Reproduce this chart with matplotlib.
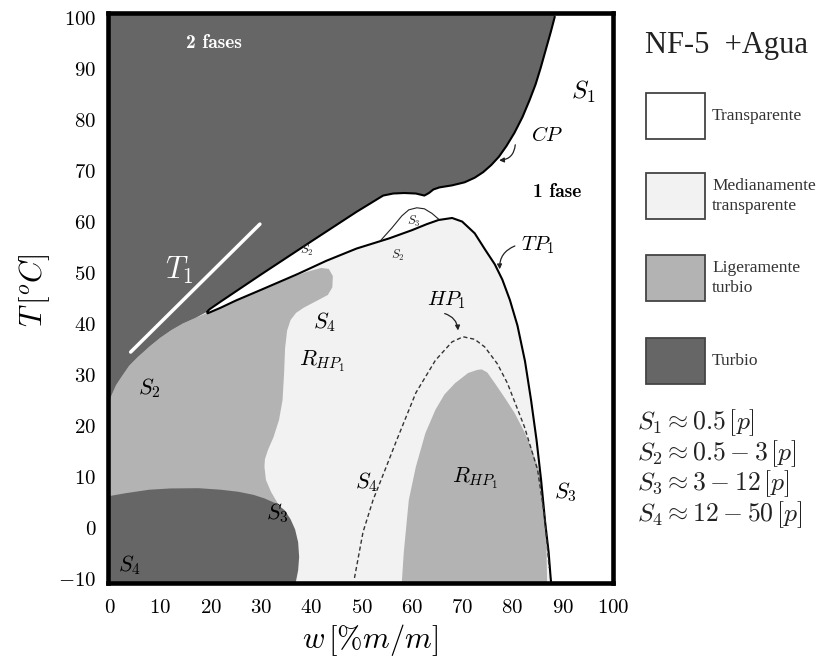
import matplotlib
matplotlib.use('Agg')
import matplotlib.pyplot as plt
from matplotlib.patches import Polygon, Rectangle

plt.rcParams['mathtext.fontset'] = 'cm'

# grados de turbidez
c_trans = '#ffffff'
c_medio = '#f2f2f2'
c_liger = '#b3b3b3'
c_turbio = '#666666'

# borde inferior de la zona 2 fases: curva CP y escalon
cp_w = [88.8, 88.4, 87.6, 86.6, 85.6, 84.6, 83.4, 82.0, 80.4, 78.8, 77.3, 75.8, 74.2, 72.5, 70.5, 68.0,
        65.5, 64.3, 63.4, 62.5, 60.8, 58.5, 56.3, 54.3]
cp_T = [101, 100, 97, 93.5, 90, 86.8, 83.7, 80.4, 77.3, 74.7, 72.6, 71.0, 69.6, 68.5, 67.6, 67.0,
        66.6, 66.2, 65.5, 65.0, 65.4, 65.5, 65.4, 65.0]

# cuna blanca: borde superior (hacia la punta) y borde inferior (desde la punta)
cuna_sup_w = [49, 40, 30, 22, 19.8, 19.3]
cuna_sup_T = [61.8, 56.0, 49.5, 44.2, 42.7, 42.2]
cuna_inf_w = [19.4, 22, 25, 30, 37.3, 43, 49, 55.5, 60, 63, 65.3, 68]
cuna_inf_T = [41.9, 43.0, 44.4, 46.5, 49.6, 52.2, 54.6, 56.6, 58.2, 59.4, 60.2, 60.6]

# curva TP1
tp_w = [70, 72.5, 74.5, 76.5, 78, 79.5, 81, 82.5, 83.7, 84.8, 85.7, 86.5, 87.2, 87.6, 87.7]
tp_T = [59.9, 57.6, 54.5, 51.5, 48.5, 44.5, 39.5, 32.5, 24.9, 17.0, 9.2, 1.0, -5, -10, -11]

# frontera turbio / ligeramente turbio a la izquierda (desde la punta)
izq_w = [17, 14.5, 12.2, 10, 8, 5.5, 3.8, 2.4, 1.2, 0.3, -0.3, -1]
izq_T = [41.0, 39.9, 38.6, 37.1, 35.5, 33.3, 31.6, 29.6, 27.8, 25.8, 24.3, 22.5]

# zona ligeramente turbia izquierda: borde superior y derecho
lig_w = [19.3, 25, 30, 35, 39, 42, 43.5, 44.3, 44.2, 43.3, 41.2, 38.5, 37.0, 35.9, 35.2, 34.8, 34.6,
         34.3, 33.6, 32.5, 31.4, 30.8, 30.7, 31.0, 32.0, 34.0, 36.0]
lig_T = [42.0, 44.3, 46.4, 48.5, 50.0, 50.8, 50.6, 49.2, 47.0, 45.5, 44.4, 43.0, 42.0, 40.6, 38.5, 35.0, 30.0,
         24.9, 21.0, 17.6, 15.1, 13.3, 11.8, 9.2, 6.9, 3.5, -11]

# zona turbia inferior izquierda
inf_w = [-1, -1, 3.0, 7.8, 12.0, 17.6, 22.0, 25.5, 28.5, 30.7, 33.0, 34.7, 35.9, 36.8, 37.4, 37.6, 37.4, 36.9]
inf_T = [-11, 5.9, 6.6, 7.3, 7.55, 7.6, 7.3, 6.9, 6.3, 5.6, 4.6, 3.3, 1.5, -0.5, -3.0, -5.9, -8.5, -11]

# zona ligeramente turbia derecha (R_HP1)
rhp_w = [58.0, 58.4, 59.4, 60.8, 62.7, 64.7, 66.5, 68.6, 71.2, 73.0, 73.9, 75.0, 76.5, 78.5, 80.4, 82.2,
         83.7, 85.0, 85.7, 86.3, 86.7, 86.9]
rhp_T = [-11, -5, 5.3, 11.8, 18.4, 23.0, 26.0, 28.2, 30.2, 30.8, 30.9, 30.3, 28.2, 25.3, 22.4, 19.0,
         15.7, 12.0, 9.2, 4.0, -1.2, -11]

# curva HP1 (discontinua)
hp_w = [48.6, 50.3, 52.3, 55.0, 56.9, 60.8, 64.7, 68.0, 70.2, 72.5, 74.5, 77.0, 79.0, 82.4, 85.0, 86.4, 87.3]
hp_T = [-10, -1, 5.3, 12.0, 16.8, 26.3, 32.7, 36.3, 37.3, 36.8, 35.3, 32.0, 28.2, 19.6, 11.2, 2.0, -8]

# linea S3 sobre la cuna
s3_w = [53.9, 56.0, 58.0, 59.4, 61.0, 62.5, 64.0, 65.3]
s3_T = [56.3, 58.6, 61.0, 62.2, 62.6, 62.4, 61.5, 60.4]

# recta T1
t1_w = [4.1, 29.8]
t1_T = [34.3, 59.4]

fig = plt.figure(figsize=(8.2, 6.66), dpi=100)
ax = fig.add_axes([0.1311, 0.1246, 0.6165, 0.8566])
ax.set_xlim(-0.5, 98.6)
ax.set_ylim(-11, 100.9)

# medianamente transparente
p = list(zip(cuna_inf_w, cuna_inf_T)) + list(zip(tp_w, tp_T)) + [(-1, -11), (-1, 30)]
ax.add_patch(Polygon(p, closed=True, fc=c_medio, ec='none', zorder=1))

# ligeramente turbio
p = list(zip(lig_w, lig_T)) + [(-1, -11)] + list(zip(izq_w, izq_T))[::-1]
ax.add_patch(Polygon(p, closed=True, fc=c_liger, ec='none', zorder=2))
ax.add_patch(Polygon(list(zip(rhp_w, rhp_T)), closed=True, fc=c_liger, ec='none', zorder=2))

# turbio
p = [(-1, 101)] + list(zip(cp_w, cp_T)) + list(zip(cuna_sup_w, cuna_sup_T)) + list(zip(izq_w, izq_T))
ax.add_patch(Polygon(p, closed=True, fc=c_turbio, ec='none', zorder=3))
ax.add_patch(Polygon(list(zip(inf_w, inf_T)), closed=True, fc=c_turbio, ec='none', zorder=3))

# contornos
borde_w = cp_w[1:] + cuna_sup_w + cuna_inf_w + tp_w
borde_T = cp_T[1:] + cuna_sup_T + cuna_inf_T + tp_T
ax.plot(borde_w, borde_T, color='black', lw=1.5, solid_joinstyle='round', zorder=5)
ax.plot(s3_w, s3_T, color='#222222', lw=0.8, zorder=5)
ax.plot(hp_w, hp_T, color='#333333', lw=1.0, ls=(0, (3, 2)), zorder=5)
ax.plot(t1_w, t1_T, color='white', lw=2.5, solid_capstyle='round', zorder=6)

# etiquetas dentro del diagrama
ax.text(20.6, 94.9, '2 fases', family='cmb10', fontsize=14, color='white', ha='center', va='center', zorder=7)
ax.text(88.8, 65.7, '1 fase', family='cmb10', fontsize=14, color='black', ha='center', va='center', zorder=7)
ax.text(13.7, 50.4, r'$T_1$', fontsize=22, color='white', ha='center', va='center', zorder=7)
ax.text(94.0, 85.3, r'$S_1$', fontsize=18, ha='center', va='center', zorder=7)
ax.text(86.9, 76.9, r'$CP$', fontsize=15, ha='center', va='center', zorder=7)
ax.text(85.1, 55.3, r'$TP_1$', fontsize=15, ha='center', va='center', zorder=7)
ax.text(66.9, 44.5, r'$HP_1$', fontsize=15, ha='center', va='center', zorder=7)
ax.text(39.2, 54.3, r'$S_2$', fontsize=9, color='#222222', ha='center', va='center', zorder=7)
ax.text(57.3, 53.3, r'$S_2$', fontsize=9, color='#222222', ha='center', va='center', zorder=7)
ax.text(60.4, 60.0, r'$S_3$', fontsize=9, color='#222222', ha='center', va='center', zorder=7)
ax.text(42.7, 40.2, r'$S_4$', fontsize=16, ha='center', va='center', zorder=7)
ax.text(42.2, 32.4, r'$R_{HP_1}$', fontsize=16, ha='center', va='center', zorder=7)
ax.text(7.8, 27.3, r'$S_2$', fontsize=16, ha='center', va='center', zorder=7)
ax.text(51.0, 8.8, r'$S_4$', fontsize=16, ha='center', va='center', zorder=7)
ax.text(72.5, 9.6, r'$R_{HP_1}$', fontsize=16, ha='center', va='center', zorder=7)
ax.text(90.6, 6.9, r'$S_3$', fontsize=16, ha='center', va='center', zorder=7)
ax.text(33.3, 2.7, r'$S_3$', fontsize=16, ha='center', va='center', zorder=7)
ax.text(3.9, -7.5, r'$S_4$', fontsize=16, ha='center', va='center', zorder=7)

flecha = dict(arrowstyle='-|>', color='#222222', lw=0.9, mutation_scale=7)
ax.annotate('', xy=(76.8, 71.9), xytext=(80.6, 75.5),
            arrowprops=dict(flecha, connectionstyle='arc3,rad=-0.5'), zorder=7)
ax.annotate('', xy=(77.5, 50.0), xytext=(81.0, 55.3),
            arrowprops=dict(flecha, connectionstyle='arc3,rad=0.4'), zorder=7)
ax.annotate('', xy=(69.2, 38.0), xytext=(66.0, 42.0),
            arrowprops=dict(flecha, connectionstyle='arc3,rad=-0.4'), zorder=7)

# ejes
ticks = list(range(0, 101, 10))
yticks = list(range(-10, 101, 10))
ax.set_xticks(ticks)
ax.set_xticklabels(['$%d$' % t for t in ticks])
ax.set_yticks(yticks)
ax.set_yticklabels(['$%d$' % t for t in yticks])
ax.tick_params(length=0, labelsize=15, pad=8)
ax.tick_params(axis='x', pad=10)
for s in ax.spines.values():
    s.set_linewidth(3.3)
    s.set_zorder(10)

fig.text(370 / 820, 1 - 640 / 666, r'$w\,[\%m/m]$', fontsize=22, ha='center', va='center')
fig.text(35 / 820, 1 - 290 / 666, r'$T\,[^oC]$', fontsize=22, ha='center', va='center', rotation=90)

# leyenda
fig.text(645 / 820, 1 - 45 / 666, 'NF-5  +Agua', family='Liberation Serif', fontsize=22,
         color='#222222', ha='left', va='center')
cajas = [c_trans, c_medio, c_liger, c_turbio]
cajas_y = [93, 173, 255, 338]
textos = ['Transparente', 'Medianamente\ntransparente', 'Ligeramente\nturbio', 'Turbio']
for c, y0, t in zip(cajas, cajas_y, textos):
    fig.add_artist(Rectangle((646 / 820, 1 - (y0 + 46) / 666), 59 / 820, 46 / 666,
                             transform=fig.transFigure, fc=c, ec='#444444', lw=1.3))
    fig.text(712 / 820, 1 - (y0 + 23) / 666, t, family='Liberation Serif', fontsize=12.5,
             color='#333333', ha='left', va='center', linespacing=1.3)

ecs = [r'$S_1 \approx 0.5\,[p]$', r'$S_2 \approx 0.5-3\,[p]$',
       r'$S_3 \approx 3-12\,[p]$', r'$S_4 \approx 12-50\,[p]$']
for i, e in enumerate(ecs):
    fig.text(637 / 820, 1 - (423 + 30.5 * i) / 666, e, fontsize=18.5, color='#222222',
             ha='left', va='center')

fig.savefig('out.png', dpi=100)
